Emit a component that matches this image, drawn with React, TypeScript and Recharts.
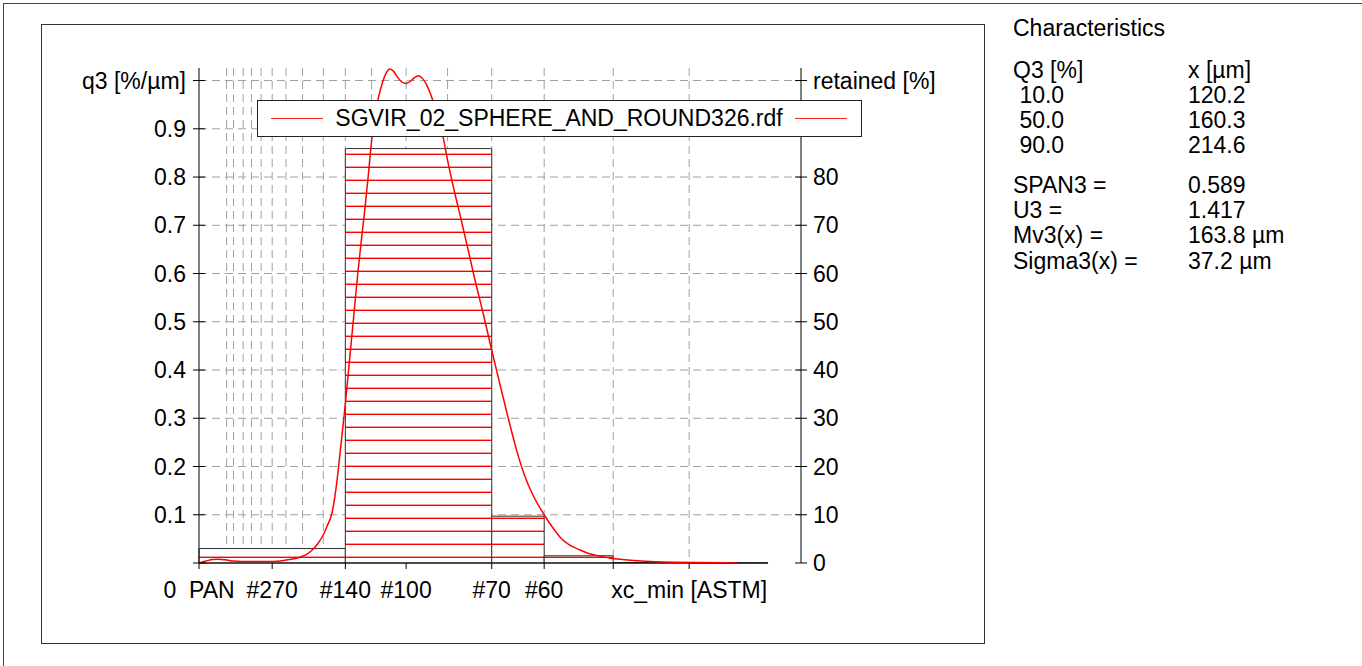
import {
  ComposedChart,
  Line,
  XAxis,
  YAxis,
  CartesianGrid,
  ReferenceLine,
  ReferenceArea,
  Legend,
} from 'recharts'

const FILE_NAME = 'SGVIR_02_SPHERE_AND_ROUND326.rdf'
const FONT = '"Liberation Sans", Arial, sans-serif'

// Density distribution q3 [%/µm] over particle size [µm]
const sizeUm = [
  0, 5, 10, 14, 19, 25, 31, 40, 50, 57, 63, 69, 74, 78, 82, 86, 90, 93, 96, 98,
  100, 103, 106, 109, 112, 115, 118, 120, 122.5, 125, 127.5, 130, 133, 136, 138,
  141, 144, 147, 150, 153, 156, 159, 162, 165, 169, 173, 177, 180, 185, 190, 195,
  200, 206, 212, 218, 224, 230, 236, 242, 250, 256, 262, 268, 276, 283, 290, 298,
  305, 315, 327, 345, 362, 380, 390,
]
const q3 = [
  0, 0.004, 0.0072, 0.0077, 0.0065, 0.004, 0.003, 0.003, 0.003, 0.0035, 0.006,
  0.009, 0.013, 0.018, 0.027, 0.04, 0.058, 0.078, 0.1, 0.13, 0.172, 0.25, 0.33,
  0.42, 0.51, 0.6, 0.68, 0.73, 0.8, 0.875, 0.93, 0.965, 0.997, 1.018, 1.024,
  1.019, 1.006, 0.997, 0.994, 0.998, 1.006, 1.01, 1.004, 0.99, 0.962, 0.925,
  0.88, 0.835, 0.77, 0.71, 0.648, 0.585, 0.515, 0.441, 0.37, 0.3, 0.234, 0.18,
  0.14, 0.1, 0.074, 0.052, 0.038, 0.027, 0.019, 0.0145, 0.01, 0.0077, 0.005,
  0.003, 0.0015, 0.001, 0.0003, 0,
]

// Sieve classes: retained [%]
const binEdges = [0, 106, 212, 250, 300, 355, 412]
const retained = [3.0, 85.9, 9.7, 1.5, 0.1, 0.05]

// ASTM sieve openings [µm] used as grid
const sieveSizes = [20, 25, 32, 38, 45, 53, 63, 75, 90, 106, 125, 150, 180, 212, 250, 300, 355]

const xTicks = [0, 53, 106, 150, 212, 250, 300, 355]
const xTickLabels = ['0\u00a0\u00a0PAN', '#270', '#140', '#100', '#70', '#60', '', 'xc_min [ASTM]']

const q3Ticks = [0, 0.1, 0.2, 0.3, 0.4, 0.5, 0.6, 0.7, 0.8, 0.9, 1.0]
const q3TickLabels = ['', '0.1', '0.2', '0.3', '0.4', '0.5', '0.6', '0.7', '0.8', '0.9', 'q3 [%/µm]']
const retainedTicks = [0, 10, 20, 30, 40, 50, 60, 70, 80, 90, 100]
const retainedTickLabels = ['0', '10', '20', '30', '40', '50', '60', '70', '80', '90', 'retained [%]']

const X_MAX = 436
const AXIS_END = 412
const Q3_MAX = 1.026

// Characteristics table
const quantileHead = ['Q3 [%]', 'x [µm]']
const quantileQ = [' 10.0', ' 50.0', ' 90.0']
const quantileX = ['120.2', '160.3', '214.6']
const statNames = ['SPAN3 =', 'U3 =', 'Mv3(x) =', 'Sigma3(x) =']
const statValues = ['0.589', '1.417', '163.8 µm', '37.2 µm']

const chartData = sizeUm.map((s, i) => ({ size: s, q3: q3[i] }))

function findLabel(ticks: number[], labels: string[], v: number) {
  const i = ticks.findIndex((t) => Math.abs(t - v) < 1e-9)
  return i >= 0 ? labels[i] : ''
}

function LeftTick(props: any) {
  const { x, y, payload } = props
  return (
    <g>
      <line x1={x - 6} x2={x + 6} y1={y} y2={y} stroke="#000" />
      <text x={x - 13} y={y} textAnchor="end" dominantBaseline="central" fontSize={23} fill="#000">
        {findLabel(q3Ticks, q3TickLabels, payload.value)}
      </text>
    </g>
  )
}

function RightTick(props: any) {
  const { x, y, payload } = props
  return (
    <g>
      <line x1={x - 6} x2={x + 6} y1={y} y2={y} stroke="#000" />
      <text x={x + 12} y={y} textAnchor="start" dominantBaseline="central" fontSize={23} fill="#000">
        {findLabel(retainedTicks, retainedTickLabels, payload.value)}
      </text>
    </g>
  )
}

function BottomTick(props: any) {
  const { x, y, payload } = props
  return (
    <g>
      <line x1={x} x2={x} y1={y} y2={y + 6} stroke="#000" />
      <text x={x} y={y + 27} textAnchor="middle" dominantBaseline="central" fontSize={23} fill="#000">
        {findLabel(xTicks, xTickLabels, payload.value)}
      </text>
    </g>
  )
}

function LegendBox(props: any) {
  const item = props.payload ? props.payload.find((p: any) => p.value === FILE_NAME) : null
  const label = item ? item.value : FILE_NAME
  const sample = { width: 52, height: 0, borderTop: '1.5px solid #ff2020', flex: 'none' }
  return (
    <div
      style={{
        boxSizing: 'border-box',
        width: 605,
        height: 37,
        border: '1px solid #222',
        background: '#fff',
        display: 'flex',
        alignItems: 'center',
        fontSize: 23,
        color: '#000',
      }}
    >
      <span style={{ ...sample, marginLeft: 13 }} />
      <span style={{ flex: 1, textAlign: 'center', whiteSpace: 'nowrap' }}>{label}</span>
      <span style={{ ...sample, marginRight: 14 }} />
    </div>
  )
}

export default function App() {
  const rowH = 25.2
  return (
    <div
      style={{
        position: 'absolute',
        left: 0,
        top: 0,
        width: 1362,
        height: 666,
        overflow: 'hidden',
        background: '#fff',
        fontFamily: FONT,
        color: '#000',
      }}
    >
      {/* outer and inner frames */}
      <div style={{ position: 'absolute', left: 3, top: 3, width: 1400, height: 700, borderLeft: '1px solid #444', borderTop: '1px solid #444' }} />
      <div style={{ position: 'absolute', left: 41, top: 24, width: 944, height: 620, boxSizing: 'border-box', border: '1px solid #333' }} />

      <div style={{ position: 'absolute', left: 0, top: 0 }}>
        <ComposedChart
          width={1362}
          height={666}
          data={chartData}
          margin={{ top: 68, right: 481, bottom: 43, left: 119 }}
        >
          <defs>
            <pattern id="hatch" patternUnits="userSpaceOnUse" width={8} height={13}>
              <rect width={8} height={13} fill="#fff" />
              <rect y={10.6} width={8} height={1.4} fill="#ff0000" />
            </pattern>
          </defs>
          <XAxis
            dataKey="size"
            type="number"
            domain={[0, X_MAX]}
            allowDataOverflow
            ticks={xTicks}
            interval={0}
            height={60}
            axisLine={false}
            tickLine={false}
            tickSize={0}
            tickMargin={0}
            tick={<BottomTick />}
          />
          <YAxis
            yAxisId="left"
            orientation="left"
            type="number"
            domain={[0, Q3_MAX]}
            allowDataOverflow
            ticks={q3Ticks}
            interval={0}
            width={80}
            axisLine={{ stroke: '#000' }}
            tickLine={false}
            tickSize={0}
            tickMargin={0}
            tick={<LeftTick />}
          />
          <YAxis
            yAxisId="right"
            orientation="right"
            type="number"
            domain={[0, Q3_MAX * 100]}
            allowDataOverflow
            ticks={retainedTicks}
            interval={0}
            width={80}
            axisLine={{ stroke: '#000' }}
            tickLine={false}
            tickSize={0}
            tickMargin={0}
            tick={<RightTick />}
          />

          {/* grid at q3 steps and ASTM sieve openings */}
          <CartesianGrid
            yAxisId="left"
            horizontalValues={q3Ticks.slice(1)}
            verticalValues={sieveSizes}
            stroke="#a0a0a0"
            strokeDasharray="8 5"
          />

          {/* retained histogram */}
          {retained.map((v, i) => (
            <ReferenceArea
              key={'b' + i}
              yAxisId="right"
              x1={binEdges[i]}
              x2={binEdges[i + 1]}
              y1={0}
              y2={v}
              fill="url(#hatch)"
              fillOpacity={1}
              stroke="#333"
              strokeWidth={1}
            />
          ))}

          <ReferenceLine
            yAxisId="left"
            segment={[
              { x: 0, y: 0 },
              { x: AXIS_END, y: 0 },
            ]}
            stroke="#000"
          />

          {/* keeps the retained axis bound to a series */}
          <Line
            yAxisId="right"
            dataKey="none"
            stroke="none"
            dot={false}
            activeDot={false}
            legendType="none"
            isAnimationActive={false}
          />

          <Line
            yAxisId="left"
            dataKey="q3"
            name={FILE_NAME}
            type="monotone"
            stroke="#ff0000"
            strokeWidth={1.5}
            dot={false}
            activeDot={false}
            isAnimationActive={false}
          />

          <Legend
            layout="horizontal"
            verticalAlign="middle"
            align="center"
            content={<LegendBox />}
            wrapperStyle={{ left: 257, top: 100, width: 605, height: 37 }}
          />
        </ComposedChart>
      </div>

      {/* characteristics */}
      <div style={{ position: 'absolute', left: 1013, top: 16, fontSize: 23, lineHeight: rowH + 'px' }}>
        Characteristics
      </div>
      <div style={{ position: 'absolute', left: 1013, top: 57.6, fontSize: 23, lineHeight: rowH + 'px', whiteSpace: 'pre' }}>
        <div>{quantileHead[0]}</div>
        {quantileQ.map((q) => (
          <div key={q}>{q}</div>
        ))}
      </div>
      <div style={{ position: 'absolute', left: 1188, top: 57.6, fontSize: 23, lineHeight: rowH + 'px', whiteSpace: 'pre' }}>
        <div>{quantileHead[1]}</div>
        {quantileX.map((x) => (
          <div key={x}>{x}</div>
        ))}
      </div>
      <div style={{ position: 'absolute', left: 1013, top: 173, fontSize: 23, lineHeight: rowH + 'px', whiteSpace: 'pre' }}>
        {statNames.map((n) => (
          <div key={n}>{n}</div>
        ))}
      </div>
      <div style={{ position: 'absolute', left: 1188, top: 173, fontSize: 23, lineHeight: rowH + 'px', whiteSpace: 'pre' }}>
        {statValues.map((v) => (
          <div key={v}>{v}</div>
        ))}
      </div>
    </div>
  )
}
